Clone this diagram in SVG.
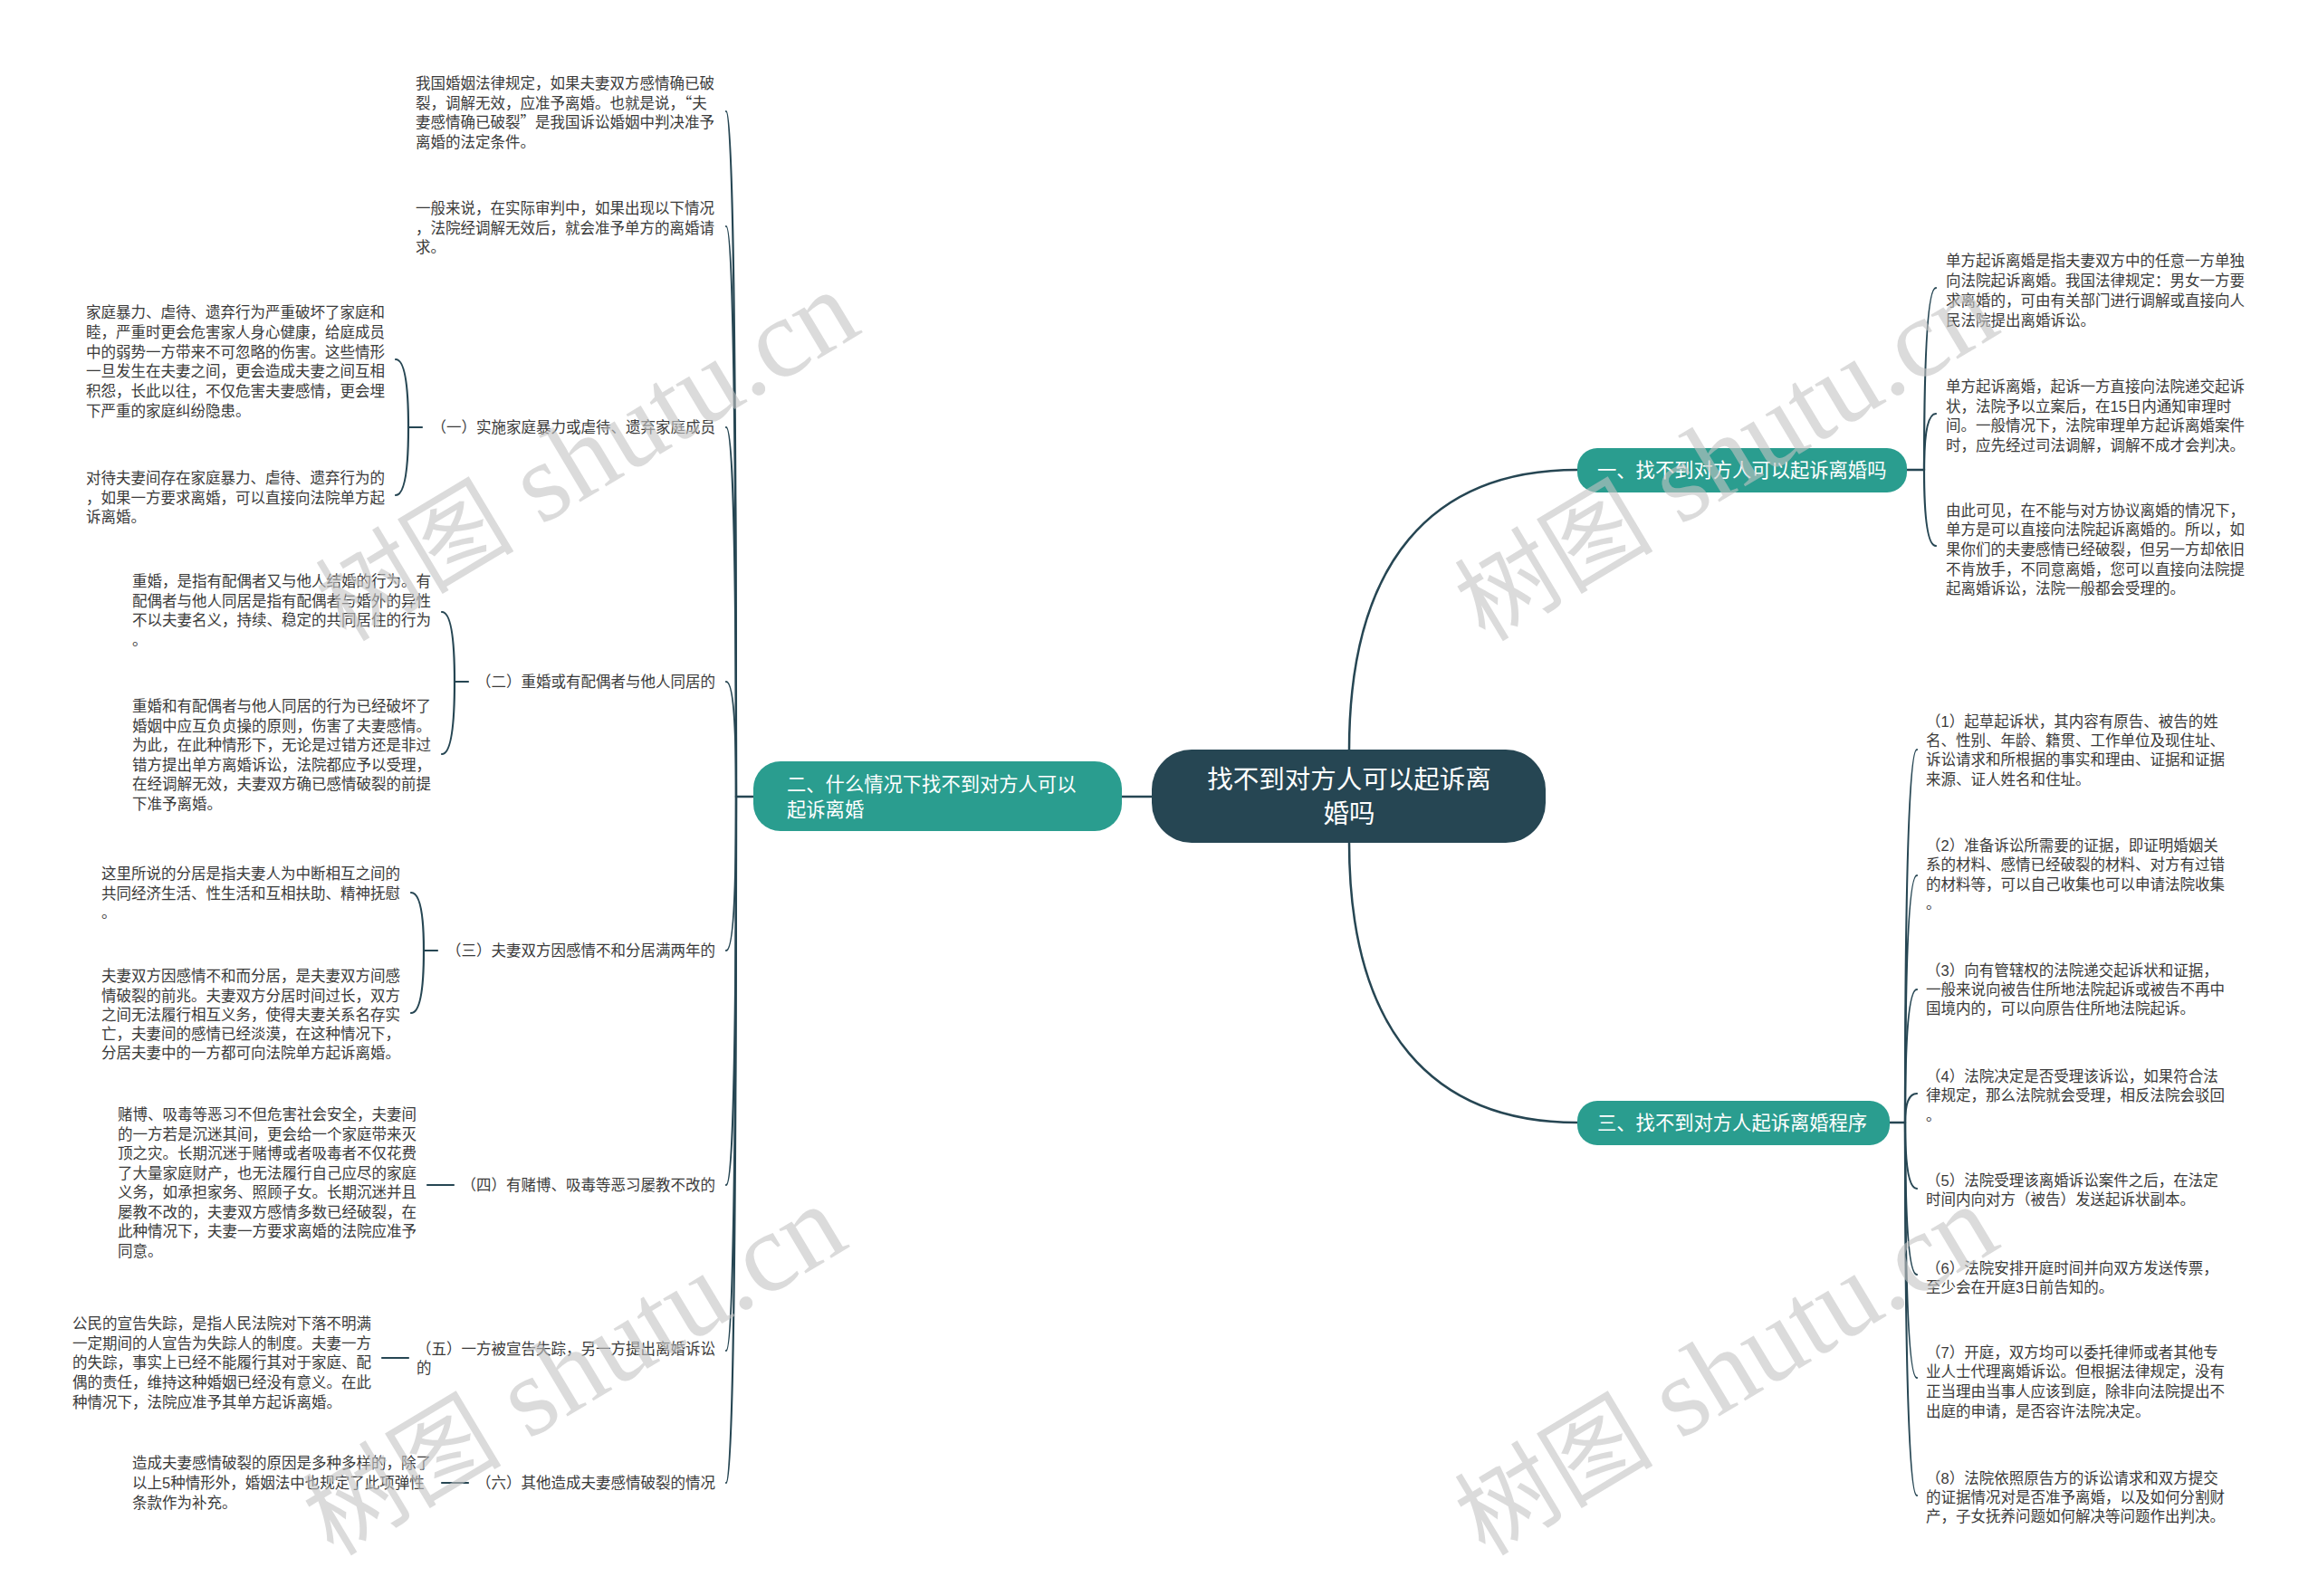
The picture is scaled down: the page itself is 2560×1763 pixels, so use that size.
<svg xmlns="http://www.w3.org/2000/svg" width="2560" height="1763" viewBox="0 0 2560 1763">
<style>
.t{font-family:"Liberation Sans","Noto Sans CJK SC",sans-serif;font-size:16.5px;fill:#3a3a3a}
.q{font-family:"Noto Sans CJK SC",sans-serif}
.b{font-family:"Liberation Sans","Noto Sans CJK SC",sans-serif;font-size:21.3px;fill:#ffffff}
.c{font-family:"Liberation Sans","Noto Sans CJK SC",sans-serif;font-size:28.5px;fill:#ffffff}
.e{text-anchor:end}
.m{text-anchor:middle}
.ln{fill:none;stroke:#264653;stroke-width:2.5;stroke-linecap:round}
.sl{fill:none;stroke:#264653;stroke-width:2.2;stroke-linecap:round}
.br{fill:#2a9d8f}
.wm{font-family:"Liberation Serif","Noto Sans CJK SC",serif;font-size:110px;fill:#c4c4c4;opacity:0.6}
.wl{font-size:124px}
</style>
<rect x="0" y="0" width="2560" height="1763" fill="#ffffff"/>

<g id="connectors">
  <path class="ln" d="M 1490 829 C 1490 620 1582 519 1742 519"/>
  <path class="ln" d="M 1490 930 C 1490 1139 1582 1240 1742 1240"/>
  <path class="ln" d="M 1272 880 L 1239 880"/>
  <path class="ln" d="M 832 880 L 813 880"/>
  <path class="ln" d="M 2106 519 L 2125 519"/>
  <path class="ln" d="M 2087 1240 L 2104 1240"/>
  <path class="sl" d="M 813 880 Q 813 123 802 123"/>
  <path class="sl" d="M 813 880 Q 813 250 802 250"/>
  <path class="sl" d="M 813 880 Q 813 472 802 472"/>
  <path class="sl" d="M 813 880 Q 813 753 802 753"/>
  <path class="sl" d="M 813 880 Q 813 1050 802 1050"/>
  <path class="sl" d="M 813 880 Q 813 1309 802 1309"/>
  <path class="sl" d="M 813 880 Q 813 1492 802 1492"/>
  <path class="sl" d="M 813 880 Q 813 1638 802 1638"/>
  <path class="sl" d="M 451 472 L 466 472"/>
  <path class="sl" d="M 451 472 Q 451 397 437 397"/>
  <path class="sl" d="M 451 472 Q 451 547 437 547"/>
  <path class="sl" d="M 502 753 L 517 753"/>
  <path class="sl" d="M 502 753 Q 502 676 488 676"/>
  <path class="sl" d="M 502 753 Q 502 833 488 833"/>
  <path class="sl" d="M 468 1050 L 483 1050"/>
  <path class="sl" d="M 468 1050 Q 468 986 454 986"/>
  <path class="sl" d="M 468 1050 Q 468 1119 454 1119"/>
  <path class="sl" d="M 472 1309 L 501 1309"/>
  <path class="sl" d="M 422 1500 L 451 1500"/>
  <path class="sl" d="M 488 1638 L 517 1638"/>
  <path class="sl" d="M 2125 519 Q 2125 318 2138 318"/>
  <path class="sl" d="M 2125 519 Q 2125 457 2138 457"/>
  <path class="sl" d="M 2125 519 Q 2125 603 2138 603"/>
  <path class="sl" d="M 2104 1240 Q 2104 828 2117 828"/>
  <path class="sl" d="M 2104 1240 Q 2104 967 2117 967"/>
  <path class="sl" d="M 2104 1240 Q 2104 1093 2117 1093"/>
  <path class="sl" d="M 2104 1240 Q 2104 1208 2117 1208"/>
  <path class="sl" d="M 2104 1240 Q 2104 1313 2117 1313"/>
  <path class="sl" d="M 2104 1240 Q 2104 1408 2117 1408"/>
  <path class="sl" d="M 2104 1240 Q 2104 1522 2117 1522"/>
  <path class="sl" d="M 2104 1240 Q 2104 1652 2117 1652"/>
</g>

<g id="root">
  <rect x="1272" y="828" width="435" height="103" rx="44" fill="#264653"/>
  <text class="c m"><tspan x="1490" y="871">找不到对方人可以起诉离</tspan><tspan x="1490" y="909">婚吗</tspan></text>
</g>

<g id="branch1">
  <rect class="br" x="1742" y="495" width="364" height="49" rx="22"/>
  <text class="b" x="1764" y="527">一、找不到对方人可以起诉离婚吗</text>
</g>
<g id="branch2">
  <rect class="br" x="832" y="841" width="407" height="77" rx="30"/>
  <text class="b"><tspan x="869" y="874">二、什么情况下找不到对方人可以</tspan><tspan x="869" y="902">起诉离婚</tspan></text>
</g>
<g id="branch3">
  <rect class="br" x="1742" y="1216" width="345" height="49" rx="22"/>
  <text class="b" x="1764" y="1248">三、找不到对方人起诉离婚程序</text>
</g>

<g id="b2-intro1">
  <text class="t"><tspan x="459" y="98">我国婚姻法律规定，如果夫妻双方感情确已破</tspan><tspan x="459" y="119.5">裂，调解无效，应准予离婚。也就是说，<tspan class="q">“</tspan>夫</tspan><tspan x="459" y="141">妻感情确已破裂<tspan class="q">”</tspan>是我国诉讼婚姻中判决准予</tspan><tspan x="459" y="163">离婚的法定条件。</tspan></text>
</g>
<g id="b2-intro2">
  <text class="t"><tspan x="459" y="236">一般来说，在实际审判中，如果出现以下情况</tspan><tspan x="459" y="257.5">，法院经调解无效后，就会准予单方的离婚请</tspan><tspan x="459" y="279">求。</tspan></text>
</g>

<g id="b2-c1">
  <text class="t e" x="790" y="478">（一）实施家庭暴力或虐待、遗弃家庭成员</text>
</g>
<g id="b2-c1-t1">
  <text class="t"><tspan x="95" y="351">家庭暴力、虐待、遗弃行为严重破坏了家庭和</tspan><tspan x="95" y="373">睦，严重时更会危害家人身心健康，给庭成员</tspan><tspan x="95" y="394.5">中的弱势一方带来不可忽略的伤害。这些情形</tspan><tspan x="95" y="416">一旦发生在夫妻之间，更会造成夫妻之间互相</tspan><tspan x="95" y="438">积怨，长此以往，不仅危害夫妻感情，更会埋</tspan><tspan x="95" y="459.5">下严重的家庭纠纷隐患。</tspan></text>
</g>
<g id="b2-c1-t2">
  <text class="t"><tspan x="95" y="534">对待夫妻间存在家庭暴力、虐待、遗弃行为的</tspan><tspan x="95" y="556">，如果一方要求离婚，可以直接向法院单方起</tspan><tspan x="95" y="577">诉离婚。</tspan></text>
</g>

<g id="b2-c2">
  <text class="t e" x="790" y="759">（二）重婚或有配偶者与他人同居的</text>
</g>
<g id="b2-c2-t1">
  <text class="t"><tspan x="146" y="648">重婚，是指有配偶者又与他人结婚的行为。有</tspan><tspan x="146" y="669.5">配偶者与他人同居是指有配偶者与婚外的异性</tspan><tspan x="146" y="691">不以夫妻名义，持续、稳定的共同居住的行为</tspan><tspan x="146" y="713">。</tspan></text>
</g>
<g id="b2-c2-t2">
  <text class="t"><tspan x="146" y="786">重婚和有配偶者与他人同居的行为已经破坏了</tspan><tspan x="146" y="808">婚姻中应互负贞操的原则，伤害了夫妻感情。</tspan><tspan x="146" y="829">为此，在此种情形下，无论是过错方还是非过</tspan><tspan x="146" y="850.5">错方提出单方离婚诉讼，法院都应予以受理，</tspan><tspan x="146" y="872">在经调解无效，夫妻双方确已感情破裂的前提</tspan><tspan x="146" y="893.5">下准予离婚。</tspan></text>
</g>

<g id="b2-c3">
  <text class="t e" x="790" y="1056">（三）夫妻双方因感情不和分居满两年的</text>
</g>
<g id="b2-c3-t1">
  <text class="t"><tspan x="112" y="971">这里所说的分居是指夫妻人为中断相互之间的</tspan><tspan x="112" y="993">共同经济生活、性生活和互相扶助、精神抚慰</tspan><tspan x="112" y="1014">。</tspan></text>
</g>
<g id="b2-c3-t2">
  <text class="t"><tspan x="112" y="1084">夫妻双方因感情不和而分居，是夫妻双方间感</tspan><tspan x="112" y="1105.5">情破裂的前兆。夫妻双方分居时间过长，双方</tspan><tspan x="112" y="1127">之间无法履行相互义务，使得夫妻关系名存实</tspan><tspan x="112" y="1148">亡，夫妻间的感情已经淡漠，在这种情况下，</tspan><tspan x="112" y="1169">分居夫妻中的一方都可向法院单方起诉离婚。</tspan></text>
</g>

<g id="b2-c4">
  <text class="t e" x="790" y="1315">（四）有赌博、吸毒等恶习屡教不改的</text>
</g>
<g id="b2-c4-t1">
  <text class="t"><tspan x="130" y="1237">赌博、吸毒等恶习不但危害社会安全，夫妻间</tspan><tspan x="130" y="1258.5">的一方若是沉迷其间，更会给一个家庭带来灭</tspan><tspan x="130" y="1280">顶之灾。长期沉迷于赌博或者吸毒者不仅花费</tspan><tspan x="130" y="1301.5">了大量家庭财产，也无法履行自己应尽的家庭</tspan><tspan x="130" y="1323">义务，如承担家务、照顾子女。长期沉迷并且</tspan><tspan x="130" y="1344.5">屡教不改的，夫妻双方感情多数已经破裂，在</tspan><tspan x="130" y="1366">此种情况下，夫妻一方要求离婚的法院应准予</tspan><tspan x="130" y="1388">同意。</tspan></text>
</g>

<g id="b2-c5">
  <text class="t"><tspan x="460" y="1496">（五）一方被宣告失踪，另一方提出离婚诉讼</tspan><tspan x="460" y="1517">的</tspan></text>
</g>
<g id="b2-c5-t1">
  <text class="t"><tspan x="80" y="1468">公民的宣告失踪，是指人民法院对下落不明满</tspan><tspan x="80" y="1489.5">一定期间的人宣告为失踪人的制度。夫妻一方</tspan><tspan x="80" y="1511">的失踪，事实上已经不能履行其对于家庭、配</tspan><tspan x="80" y="1533">偶的责任，维持这种婚姻已经没有意义。在此</tspan><tspan x="80" y="1554.5">种情况下，法院应准予其单方起诉离婚。</tspan></text>
</g>

<g id="b2-c6">
  <text class="t e" x="790" y="1644">（六）其他造成夫妻感情破裂的情况</text>
</g>
<g id="b2-c6-t1">
  <text class="t"><tspan x="146" y="1622">造成夫妻感情破裂的原因是多种多样的，除了</tspan><tspan x="146" y="1644">以上5种情形外，婚姻法中也规定了此项弹性</tspan><tspan x="146" y="1665.5">条款作为补充。</tspan></text>
</g>

<g id="b1-c1">
  <text class="t"><tspan x="2149" y="294">单方起诉离婚是指夫妻双方中的任意一方单独</tspan><tspan x="2149" y="316">向法院起诉离婚。我国法律规定：男女一方要</tspan><tspan x="2149" y="338">求离婚的，可由有关部门进行调解或直接向人</tspan><tspan x="2149" y="359.5">民法院提出离婚诉讼。</tspan></text>
</g>
<g id="b1-c2">
  <text class="t"><tspan x="2149" y="433">单方起诉离婚，起诉一方直接向法院递交起诉</tspan><tspan x="2149" y="454.5">状，法院予以立案后，在15日内通知审理时</tspan><tspan x="2149" y="476">间。一般情况下，法院审理单方起诉离婚案件</tspan><tspan x="2149" y="497.5">时，应先经过司法调解，调解不成才会判决。</tspan></text>
</g>
<g id="b1-c3">
  <text class="t"><tspan x="2149" y="569.5">由此可见，在不能与对方协议离婚的情况下，</tspan><tspan x="2149" y="591">单方是可以直接向法院起诉离婚的。所以，如</tspan><tspan x="2149" y="613">果你们的夫妻感情已经破裂，但另一方却依旧</tspan><tspan x="2149" y="634.5">不肯放手，不同意离婚，您可以直接向法院提</tspan><tspan x="2149" y="656">起离婚诉讼，法院一般都会受理的。</tspan></text>
</g>

<g id="b3-c1">
  <text class="t"><tspan x="2127" y="803">（1）起草起诉状，其内容有原告、被告的姓</tspan><tspan x="2127" y="824">名、性别、年龄、籍贯、工作单位及现住址、</tspan><tspan x="2127" y="845">诉讼请求和所根据的事实和理由、证据和证据</tspan><tspan x="2127" y="866.5">来源、证人姓名和住址。</tspan></text>
</g>
<g id="b3-c2">
  <text class="t"><tspan x="2127" y="939.5">（2）准备诉讼所需要的证据，即证明婚姻关</tspan><tspan x="2127" y="961">系的材料、感情已经破裂的材料、对方有过错</tspan><tspan x="2127" y="982.5">的材料等，可以自己收集也可以申请法院收集</tspan><tspan x="2127" y="1004">。</tspan></text>
</g>
<g id="b3-c3">
  <text class="t"><tspan x="2127" y="1078">（3）向有管辖权的法院递交起诉状和证据，</tspan><tspan x="2127" y="1099">一般来说向被告住所地法院起诉或被告不再中</tspan><tspan x="2127" y="1120">国境内的，可以向原告住所地法院起诉。</tspan></text>
</g>
<g id="b3-c4">
  <text class="t"><tspan x="2127" y="1194.5">（4）法院决定是否受理该诉讼，如果符合法</tspan><tspan x="2127" y="1216">律规定，那么法院就会受理，相反法院会驳回</tspan><tspan x="2127" y="1238">。</tspan></text>
</g>
<g id="b3-c5">
  <text class="t"><tspan x="2127" y="1309.5">（5）法院受理该离婚诉讼案件之后，在法定</tspan><tspan x="2127" y="1331">时间内向对方（被告）发送起诉状副本。</tspan></text>
</g>
<g id="b3-c6">
  <text class="t"><tspan x="2127" y="1406.5">（6）法院安排开庭时间并向双方发送传票，</tspan><tspan x="2127" y="1428">至少会在开庭3日前告知的。</tspan></text>
</g>
<g id="b3-c7">
  <text class="t"><tspan x="2127" y="1499.5">（7）开庭，双方均可以委托律师或者其他专</tspan><tspan x="2127" y="1521">业人士代理离婚诉讼。但根据法律规定，没有</tspan><tspan x="2127" y="1543">正当理由当事人应该到庭，除非向法院提出不</tspan><tspan x="2127" y="1564.5">出庭的申请，是否容许法院决定。</tspan></text>
</g>
<g id="b3-c8">
  <text class="t"><tspan x="2127" y="1638.5">（8）法院依照原告方的诉讼请求和双方提交</tspan><tspan x="2127" y="1660">的证据情况对是否准予离婚，以及如何分割财</tspan><tspan x="2127" y="1681">产，子女抚养问题如何解决等问题作出判决。</tspan></text>
</g>

<g id="watermarks">
  <text class="wm" transform="translate(382 710) rotate(-31)">树图<tspan class="wl"> shutu.cn</tspan></text>
  <text class="wm" transform="translate(1640 710) rotate(-31)">树图<tspan class="wl"> shutu.cn</tspan></text>
  <text class="wm" transform="translate(368 1720) rotate(-31)">树图<tspan class="wl"> shutu.cn</tspan></text>
  <text class="wm" transform="translate(1640 1720) rotate(-31)">树图<tspan class="wl"> shutu.cn</tspan></text>
</g>
</svg>
